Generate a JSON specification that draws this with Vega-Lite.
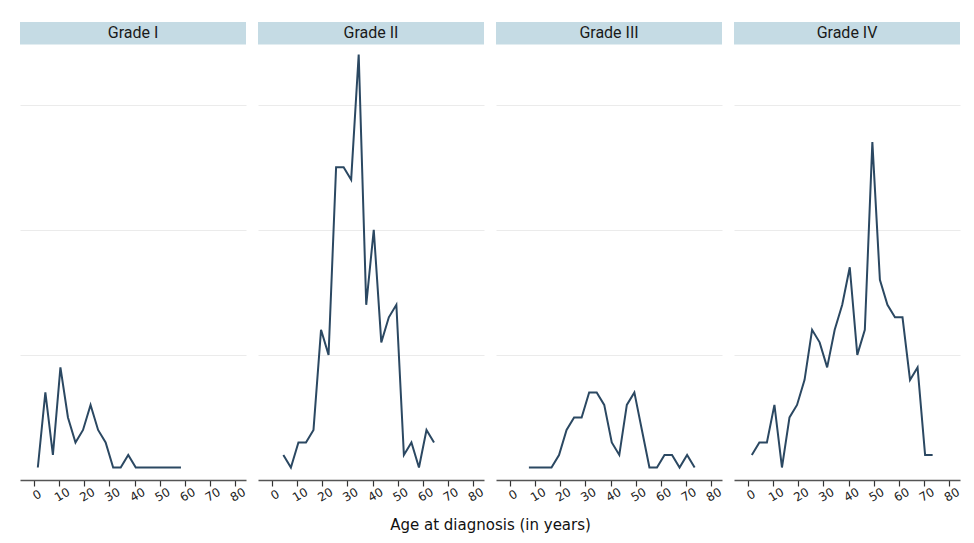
{
  "$schema": "https://vega.github.io/schema/vega-lite/v6.json",
  "padding": {"left": 20, "top": 22, "right": 10, "bottom": 8},
  "background": "white",
  "data": {"values": [
    {"grade":"Grade I","age":1.5,"n":1},{"grade":"Grade I","age":4.5,"n":7},{"grade":"Grade I","age":7.5,"n":2},{"grade":"Grade I","age":10.5,"n":9},{"grade":"Grade I","age":13.5,"n":5},{"grade":"Grade I","age":16.5,"n":3},{"grade":"Grade I","age":19.5,"n":4},{"grade":"Grade I","age":22.5,"n":6},{"grade":"Grade I","age":25.5,"n":4},{"grade":"Grade I","age":28.5,"n":3},{"grade":"Grade I","age":31.5,"n":1},{"grade":"Grade I","age":34.5,"n":1},{"grade":"Grade I","age":37.5,"n":2},{"grade":"Grade I","age":40.5,"n":1},{"grade":"Grade I","age":43.5,"n":1},{"grade":"Grade I","age":46.5,"n":1},{"grade":"Grade I","age":49.5,"n":1},{"grade":"Grade I","age":52.5,"n":1},{"grade":"Grade I","age":55.5,"n":1},{"grade":"Grade I","age":58.5,"n":1},
    {"grade":"Grade II","age":4.5,"n":2},{"grade":"Grade II","age":7.5,"n":1},{"grade":"Grade II","age":10.5,"n":3},{"grade":"Grade II","age":13.5,"n":3},{"grade":"Grade II","age":16.5,"n":4},{"grade":"Grade II","age":19.5,"n":12},{"grade":"Grade II","age":22.5,"n":10},{"grade":"Grade II","age":25.5,"n":25},{"grade":"Grade II","age":28.5,"n":25},{"grade":"Grade II","age":31.5,"n":24},{"grade":"Grade II","age":34.5,"n":34},{"grade":"Grade II","age":37.5,"n":14},{"grade":"Grade II","age":40.5,"n":20},{"grade":"Grade II","age":43.5,"n":11},{"grade":"Grade II","age":46.5,"n":13},{"grade":"Grade II","age":49.5,"n":14},{"grade":"Grade II","age":52.5,"n":2},{"grade":"Grade II","age":55.5,"n":3},{"grade":"Grade II","age":58.5,"n":1},{"grade":"Grade II","age":61.5,"n":4},{"grade":"Grade II","age":64.5,"n":3},
    {"grade":"Grade III","age":7.5,"n":1},{"grade":"Grade III","age":10.5,"n":1},{"grade":"Grade III","age":13.5,"n":1},{"grade":"Grade III","age":16.5,"n":1},{"grade":"Grade III","age":19.5,"n":2},{"grade":"Grade III","age":22.5,"n":4},{"grade":"Grade III","age":25.5,"n":5},{"grade":"Grade III","age":28.5,"n":5},{"grade":"Grade III","age":31.5,"n":7},{"grade":"Grade III","age":34.5,"n":7},{"grade":"Grade III","age":37.5,"n":6},{"grade":"Grade III","age":40.5,"n":3},{"grade":"Grade III","age":43.5,"n":2},{"grade":"Grade III","age":46.5,"n":6},{"grade":"Grade III","age":49.5,"n":7},{"grade":"Grade III","age":52.5,"n":4},{"grade":"Grade III","age":55.5,"n":1},{"grade":"Grade III","age":58.5,"n":1},{"grade":"Grade III","age":61.5,"n":2},{"grade":"Grade III","age":64.5,"n":2},{"grade":"Grade III","age":67.5,"n":1},{"grade":"Grade III","age":70.5,"n":2},{"grade":"Grade III","age":73.5,"n":1},
    {"grade":"Grade IV","age":1.5,"n":2},{"grade":"Grade IV","age":4.5,"n":3},{"grade":"Grade IV","age":7.5,"n":3},{"grade":"Grade IV","age":10.5,"n":6},{"grade":"Grade IV","age":13.5,"n":1},{"grade":"Grade IV","age":16.5,"n":5},{"grade":"Grade IV","age":19.5,"n":6},{"grade":"Grade IV","age":22.5,"n":8},{"grade":"Grade IV","age":25.5,"n":12},{"grade":"Grade IV","age":28.5,"n":11},{"grade":"Grade IV","age":31.5,"n":9},{"grade":"Grade IV","age":34.5,"n":12},{"grade":"Grade IV","age":37.5,"n":14},{"grade":"Grade IV","age":40.5,"n":17},{"grade":"Grade IV","age":43.5,"n":10},{"grade":"Grade IV","age":46.5,"n":12},{"grade":"Grade IV","age":49.5,"n":27},{"grade":"Grade IV","age":52.5,"n":16},{"grade":"Grade IV","age":55.5,"n":14},{"grade":"Grade IV","age":58.5,"n":13},{"grade":"Grade IV","age":61.5,"n":13},{"grade":"Grade IV","age":64.5,"n":8},{"grade":"Grade IV","age":67.5,"n":9},{"grade":"Grade IV","age":70.5,"n":2},{"grade":"Grade IV","age":73.5,"n":2}
  ]},
  "title": {"text": "Age at diagnosis (in years)", "orient": "bottom", "anchor": "middle", "font": "DejaVu Sans", "fontSize": 15, "fontWeight": "normal", "color": "#111", "offset": 15},
  "facet": {"column": {"field": "grade", "type": "nominal", "sort": ["Grade I","Grade II","Grade III","Grade IV"], "header": {"labels": false, "title": null}}},
  "spacing": 12,
  "spec": {
    "width": 226,
    "height": 458,
    "layer": [
      {
        "mark": {"type": "line", "color": "#2b4862", "strokeWidth": 2},
        "encoding": {
          "x": {"field": "age", "type": "quantitative",
            "scale": {"domain": [-5.6, 84.4], "nice": false, "zero": false},
            "axis": {"title": null, "values": [0,10,20,30,40,50,60,70,80], "tickCount": 9, "grid": false}},
          "y": {"field": "n", "type": "quantitative",
            "scale": {"domain": [0, 36.6], "nice": false},
            "axis": {"title": null, "values": [10,20,30], "labels": false, "ticks": false, "domain": false, "grid": true, "gridColor": "#ebebeb", "gridWidth": 1}}
        }
      },
      {
        "transform": [{"aggregate": [{"op": "count", "as": "k"}], "groupby": ["grade"]}],
        "mark": {"type": "rect", "color": "#c5dbe4"},
        "encoding": {
          "x": {"datum": -5.6, "type": "quantitative"},
          "x2": {"datum": 84.4},
          "y": {"datum": 34.8, "type": "quantitative"},
          "y2": {"datum": 36.6}
        }
      },
      {
        "transform": [{"aggregate": [{"op": "count", "as": "k"}], "groupby": ["grade"]}],
        "mark": {"type": "text", "font": "Roboto", "fontSize": 16, "fontWeight": "normal", "color": "#1a1a1a", "baseline": "middle", "align": "center"},
        "encoding": {
          "x": {"datum": 39.4, "type": "quantitative"},
          "y": {"datum": 35.7, "type": "quantitative"},
          "text": {"field": "grade", "type": "nominal"}
        }
      }
    ]
  },
  "config": {
    "view": {"stroke": null},
    "axisX": {"labelOverlap": false, "labelBound": false, "labelFlush": false, "labelAngle": -30, "labelAlign": "center", "labelBaseline": "top", "labelFont": "DejaVu Sans", "labelFontSize": 12, "labelColor": "#222", "labelPadding": 4, "domainColor": "#555", "domainWidth": 1.5, "tickColor": "#333", "tickSize": 6, "tickWidth": 1.2}
  }
}
